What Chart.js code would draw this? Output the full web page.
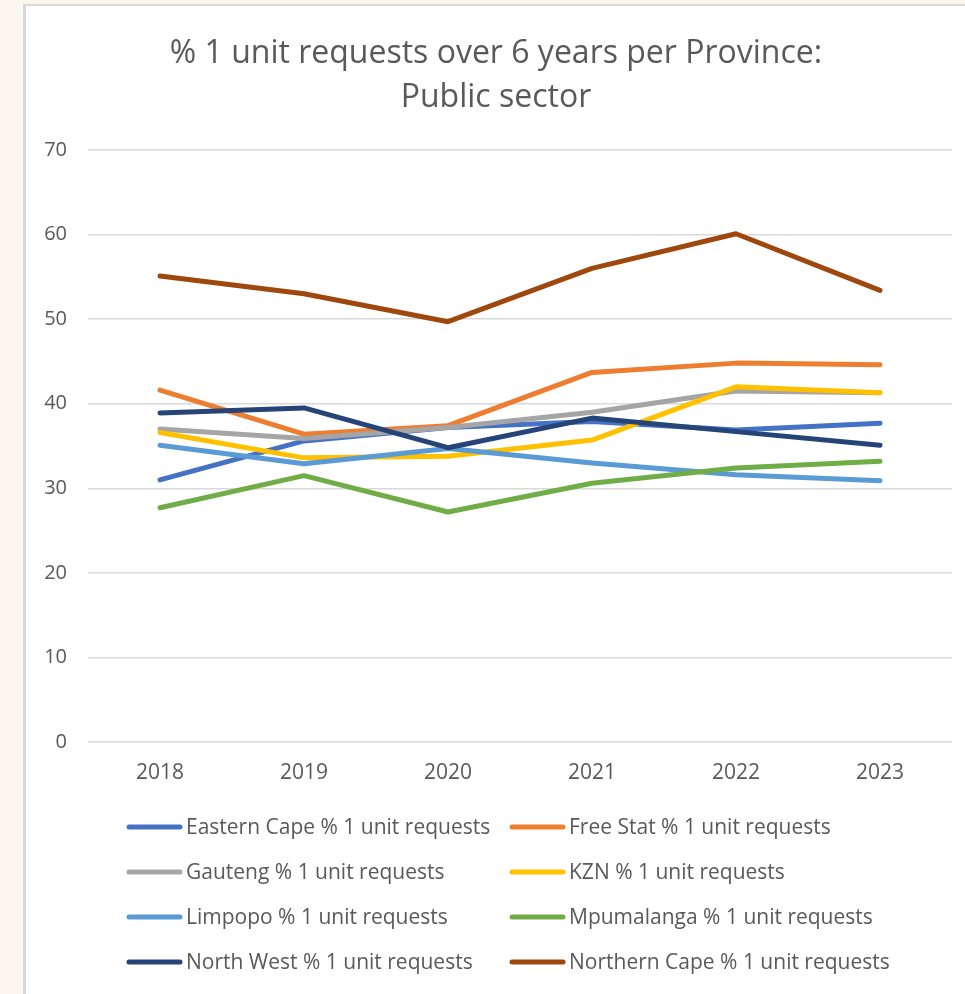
<!DOCTYPE html>
<html>
<head>
<meta charset="utf-8">
<script src="https://cdn.jsdelivr.net/npm/chart.js@4/dist/chart.umd.min.js"></script>
<style>
  html, body { margin: 0; padding: 0; width: 965px; height: 994px; overflow: hidden; background: #fbf7ef; }
  #box { position: absolute; left: 23px; top: 4px; width: 960px; height: 1000px; background: #ffffff; border-left: 3px solid #d9d9d9; border-top: 2px solid #d9d9d9; }
  #wrap { position: absolute; left: 0; top: 0; width: 965px; height: 994px; }
</style>
</head>
<body>
<div id="box"></div>
<div id="wrap"><canvas id="c" width="965" height="994"></canvas></div>
<script>
const years = ["2018", "2019", "2020", "2021", "2022", "2023"];
const titleLines = ["% 1 unit requests over 6 years per Province:", "Public sector"];
const yTicks = [0, 10, 20, 30, 40, 50, 60, 70];

const easternCape  = [31.0, 35.6, 37.2, 37.9, 36.9, 37.7];
const freeState    = [41.6, 36.4, 37.4, 43.7, 44.8, 44.6];
const gauteng      = [37.0, 35.9, 37.2, 39.0, 41.5, 41.3];
const kzn          = [36.6, 33.6, 33.8, 35.7, 42.0, 41.3];
const limpopo      = [35.1, 32.9, 34.7, 33.0, 31.6, 30.9];
const mpumalanga   = [27.7, 31.5, 27.2, 30.6, 32.4, 33.2];
const northWest    = [38.9, 39.5, 34.8, 38.3, 36.7, 35.1];
const northernCape = [55.1, 53.0, 49.7, 56.0, 60.1, 53.4];

const seriesNames = [
  "Eastern Cape % 1 unit requests", "Free Stat % 1 unit requests",
  "Gauteng % 1 unit requests", "KZN % 1 unit requests",
  "Limpopo % 1 unit requests", "Mpumalanga % 1 unit requests",
  "North West % 1 unit requests", "Northern Cape % 1 unit requests"
];
const seriesValues = [easternCape, freeState, gauteng, kzn, limpopo, mpumalanga, northWest, northernCape];
const seriesColors = ["#4472C4", "#ED7D31", "#A5A5A5", "#FFC000", "#5B9BD5", "#70AD47", "#264478", "#9E480E"];

const FONT = "'Open Sans', Lato, sans-serif";
const TEXT = "#595959";

const legendPlugin = {
  id: "twoColLegend",
  afterDraw(chart) {
    const ctx = chart.ctx;
    ctx.save();
    ctx.font = "21px " + FONT;
    ctx.textBaseline = "middle";
    ctx.textAlign = "left";
    chart.data.datasets.forEach((ds, i) => {
      const row = Math.floor(i / 2), col = i % 2;
      const x0 = col === 0 ? 127 : 510;
      const y = 827 + row * 45;
      ctx.strokeStyle = ds.borderColor;
      ctx.lineWidth = 5;
      ctx.lineCap = "round";
      ctx.beginPath();
      ctx.moveTo(x0 + 2, y);
      ctx.lineTo(x0 + 53, y);
      ctx.stroke();
      ctx.fillStyle = TEXT;
      ctx.fillText(ds.label, x0 + 59, y + 1);
    });
    ctx.restore();
  }
};

new Chart(document.getElementById("c"), {
  type: "line",
  data: {
    labels: years,
    datasets: seriesNames.map((name, i) => ({
      label: name,
      data: seriesValues[i],
      borderColor: seriesColors[i],
      backgroundColor: seriesColors[i],
      borderWidth: 5,
      pointRadius: 0,
      pointHoverRadius: 0,
      tension: 0,
      borderCapStyle: "round",
      borderJoinStyle: "round",
      order: seriesNames.length - i
    }))
  },
  options: {
    responsive: false,
    animation: false,
    events: [],
    layout: { padding: { left: 40, right: 13, top: 0, bottom: 0 } },
    plugins: {
      legend: { display: false },
      tooltip: { enabled: false },
      title: {
        display: true,
        text: titleLines,
        color: TEXT,
        font: { family: FONT, size: 32, weight: "normal", lineHeight: "44px" },
        padding: { top: 32, bottom: 30 }
      }
    },
    scales: {
      x: {
        offset: true,
        grid: { display: false, drawTicks: false },
        border: { display: false },
        ticks: { color: TEXT, font: { family: FONT, size: 21 }, padding: 18, maxRotation: 0 },
        afterFit(axis) { axis.height = 252; }
      },
      y: {
        min: 0, max: 70,
        afterBuildTicks(axis) { axis.ticks = yTicks.map(v => ({ value: v })); },
        grid: { color: "#d9d9d9", lineWidth: 1.5, drawTicks: false },
        border: { display: false },
        ticks: { color: TEXT, font: { family: FONT, size: 20 }, padding: 21 },
        afterFit(axis) { axis.width = 48; }
      }
    }
  },
  plugins: [legendPlugin]
});
</script>
</body>
</html>
